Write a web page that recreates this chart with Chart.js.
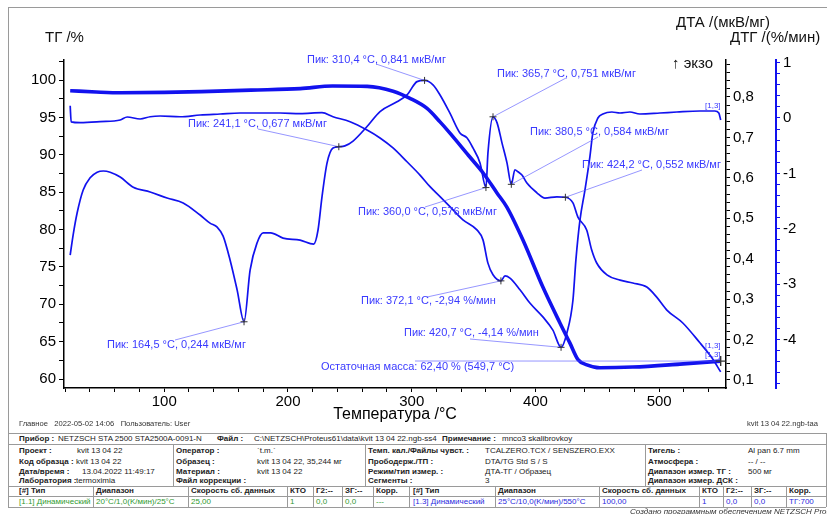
<!DOCTYPE html>
<html>
<head>
<meta charset="utf-8">
<script src="https://cdn.jsdelivr.net/npm/chart.js@4.4.1/dist/chart.umd.min.js"></script>
<style>
  html, body { margin: 0; padding: 0; background: #fff; }
  body { width: 827px; height: 514px; position: relative; overflow: hidden; font-family: "Liberation Sans", Arial, sans-serif; }
  #chart { position: absolute; left: 0; top: 0; }
  .txt { position: absolute; white-space: nowrap; line-height: 10px; font-size: 8px; color: #222; transform: translateY(-50%); }
  .small { font-size: 7.6px; }
  .big { font-size: 15px; line-height: 18px; color: #111; }
  .hl { position: absolute; height: 0; border-top: 1px solid #9a9a9a; }
  .vl { position: absolute; width: 0; border-left: 1px solid #9a9a9a; }
</style>
</head>
<body>
<canvas id="chart" width="827" height="430"></canvas>
<div id="page"></div>
<script>
// ТГ (масса, %)
const tgT = [24, 45, 65, 100, 130, 170, 210, 236, 264, 285, 298.6, 312.4, 322.9, 330.9, 347, 357.6, 368.9, 376.9, 389.9, 406, 419.8, 427.9, 434.4, 441.6, 452, 478.7, 516.7, 549.7];
const tgV = [98.57, 98.4, 98.3, 98.35, 98.45, 98.65, 98.85, 99.2, 99.15, 98.5, 97.55, 96.2, 94.4, 92.9, 89.7, 87.6, 84.9, 83.0, 78.6, 72.3, 67.5, 64.8, 62.6, 61.9, 61.5, 61.6, 62.0, 62.4];

// ДТА (мкВ/мг)
const dtaT = [24.0, 26.4, 29.6, 34.5, 40.1, 45.8, 50.8, 56.3, 64.4, 75, 88.6, 102.3, 115.3, 129, 137, 142.8, 147.6, 153.2, 158.9, 164.5,
  169.4, 175, 180, 186, 196, 209.8, 220.8, 224.3, 227.5, 231.6, 236.4, 241.1, 246, 252.6, 263.9, 274.4, 288.1, 296.2, 304.3, 310.4,
  317.2, 322.9, 330.9, 339, 344.6, 349.5, 355.2, 360.0, 361.6, 365.7, 369, 373, 377, 380.5, 383.4, 385.9, 389.1, 393.1, 401.2, 407.7,
  417.3, 424.2, 430.3, 434.3, 441.4, 445.4, 449.4, 457.8, 468.4, 478.7, 490, 498, 506.2, 519.1, 532.9, 542.6, 549.7];
const dtaV = [0.409, 0.459, 0.513, 0.57, 0.60, 0.614, 0.617, 0.614, 0.602, 0.577, 0.565, 0.55, 0.538, 0.508, 0.488, 0.478, 0.456, 0.397, 0.323, 0.244,
  0.372, 0.439, 0.464, 0.464, 0.451, 0.446, 0.436, 0.471, 0.553, 0.637, 0.674, 0.677, 0.679, 0.691, 0.727, 0.764, 0.788, 0.805, 0.838, 0.841,
  0.83, 0.805, 0.76, 0.711, 0.699, 0.674, 0.637, 0.576, 0.661, 0.751, 0.736, 0.686, 0.637, 0.584, 0.62, 0.615, 0.607, 0.587, 0.563, 0.55,
  0.553, 0.552, 0.538, 0.503, 0.471, 0.422, 0.39, 0.36, 0.347, 0.34, 0.33, 0.305, 0.273, 0.241, 0.192, 0.155, 0.12];

// ДТГ (%/мин)
const dtgT = [24.0, 24.8, 32.1, 48.2, 64.4, 70.1, 80.5, 88.6, 96.7, 112.8, 129, 145.2, 161.3, 177.5, 193.6, 209.8, 227.5, 236.4, 250.2, 263.9,
  274.4, 284.9, 296.2, 306.7, 314.8, 322.9, 330.9, 341.4, 352.7, 357.6, 361.6, 365.7, 372.1, 375.4, 379.4, 387.5, 395.5, 406, 414.1, 420.7,
  425.4, 430.3, 432.7, 436, 440, 444, 446.4, 450.5, 454.5, 461.8, 468.3, 476.3, 484.4, 500.6, 514.3, 532.9, 545, 548.2, 549.7];
const dtgV = [0.22, -0.07, -0.085, -0.067, -0.036, 0.018, -0.018, 0.023, 0.036, 0.023, 0.054, 0.072, 0.09, 0.09, 0.09, 0.08, 0.096, 0.023, -0.067, -0.217,
  -0.36, -0.54, -0.79, -1.03, -1.24, -1.42, -1.60, -1.84, -2.02, -2.20, -2.62, -2.83, -2.94, -2.85, -2.89, -3.10, -3.34, -3.59, -3.83, -4.14,
  -3.88, -3.29, -2.56, -1.84, -1.30, -0.70, -0.27, 0.0, 0.072, 0.108, 0.09, 0.108, 0.072, 0.09, 0.108, 0.126, 0.126, 0.09, -0.036];

// пики
const peakT = [164.5, 241.1, 310.4, 360.0, 365.7, 380.5, 424.2, 372.1, 420.7, 549.7];
const peakV = [0.244, 0.677, 0.841, 0.576, 0.751, 0.584, 0.552, -2.94, -4.14, 62.40];
const peakAxis = ['yDTA', 'yDTA', 'yDTA', 'yDTA', 'yDTA', 'yDTA', 'yDTA', 'yDTG', 'yDTG', 'yTG'];
const peakText = [
  'Пик: 164,5 °C, 0,244 мкВ/мг', 'Пик: 241,1 °C, 0,677 мкВ/мг', 'Пик: 310,4 °C, 0,841 мкВ/мг',
  'Пик: 360,0 °C, 0,576 мкВ/мг', 'Пик: 365,7 °C, 0,751 мкВ/мг', 'Пик: 380,5 °C, 0,584 мкВ/мг',
  'Пик: 424,2 °C, 0,552 мкВ/мг', 'Пик: 372,1 °C, -2,94 %/мин', 'Пик: 420,7 °C, -4,14 %/мин',
  'Остаточная масса: 62,40 % (549,7 °C)'
];
// положение подписи: x текста, y текста, начало выноски x, y
const noteLayout = [
  [107, 345, 175, 340], [188, 124, 258, 129], [307, 60, 376, 64], [358, 212, 425, 207],
  [497, 74, 566, 78], [530, 132, 598, 137], [582, 165, 642, 170], [361, 301, 427, 297],
  [404, 333, 470, 339], [321, 367, 415, 361]
];

const BLUE = '#1212ee';
const FONT = '"Liberation Sans", Arial, sans-serif';
Chart.defaults.font.family = FONT;
Chart.defaults.color = '#000';

const pts = (xs, ys) => xs.map((x, i) => ({ x: x, y: ys[i] }));

const notesPlugin = {
  id: 'peakNotes',
  afterDatasetsDraw(chart) {
    const { ctx, scales } = chart;
    const last = peakText.length - 1;
    ctx.save();
    ctx.font = '11px ' + FONT;
    ctx.textBaseline = 'middle';
    peakText.forEach((text, i) => {
      const px = scales.x.getPixelForValue(peakT[i]);
      const py = scales[peakAxis[i]].getPixelForValue(peakV[i]);
      const [tx, ty, lx, ly] = noteLayout[i];
      ctx.strokeStyle = 'rgba(90,90,255,0.8)';
      ctx.lineWidth = 0.8;
      ctx.beginPath(); ctx.moveTo(lx, ly); ctx.lineTo(px, py); ctx.stroke();
      const s = i === last ? 5 : 3.5;
      ctx.strokeStyle = '#333';
      ctx.lineWidth = i === last ? 1.4 : 1;
      ctx.beginPath();
      ctx.moveTo(px - s, py); ctx.lineTo(px + s, py);
      ctx.moveTo(px, py - s); ctx.lineTo(px, py + s);
      ctx.stroke();
      ctx.fillStyle = '#3a3aff';
      ctx.fillText(text, tx, ty);
    });
    // метки сегментов
    ctx.font = '8px ' + FONT;
    ctx.fillStyle = '#3a3aff';
    ctx.fillText('[1,3]', 705, 106);
    ctx.fillText('[1,3]', 705, 346);
    ctx.fillText('[1,3]', 705, 355);
    ctx.restore();
  }
};

const tickFont = { size: 15 };

new Chart(document.getElementById('chart').getContext('2d'), {
  type: 'line',
  data: {
    datasets: [
      { label: 'ТГ', data: pts(tgT, tgV), yAxisID: 'yTG', borderColor: BLUE, borderWidth: 3.6 },
      { label: 'ДТА', data: pts(dtaT, dtaV), yAxisID: 'yDTA', borderColor: BLUE, borderWidth: 1.7 },
      { label: 'ДТГ', data: pts(dtgT, dtgV), yAxisID: 'yDTG', borderColor: BLUE, borderWidth: 1.7 }
    ]
  },
  options: {
    responsive: false,
    animation: false,
    elements: { point: { radius: 0 }, line: { cubicInterpolationMode: 'monotone', fill: false } },
    layout: { padding: { left: 0, right: 1, top: 60, bottom: 0 } },
    plugins: { legend: { display: false }, tooltip: { enabled: false } },
    scales: {
      x: {
        type: 'linear', min: 19, max: 554,
        border: { color: '#000', width: 1.5 },
        grid: { drawOnChartArea: false, color: '#000', tickLength: 4 },
        ticks: {
          stepSize: 20, autoSkip: false, includeBounds: false, maxRotation: 0, padding: 1, font: tickFont,
          callback: v => (Math.round(v) % 100 === 0 ? String(Math.round(v)) : '')
        },
        title: { display: true, text: 'Температура /°C', font: { size: 16 }, padding: { top: 0, bottom: 6 } },
        afterFit: s => { s.height = 42; }
      },
      yTG: {
        position: 'left', min: 58.8, max: 102.68,
        border: { color: '#000', width: 1.5 },
        grid: { drawOnChartArea: false, color: '#000', tickLength: 5 },
        ticks: {
          stepSize: 2.5, autoSkip: false, includeBounds: false, padding: 3, font: tickFont,
          callback: v => (Math.abs(v / 5 - Math.round(v / 5)) < 1e-6 ? String(Math.round(v)) : '')
        },
        afterFit: s => { s.width = 64; }
      },
      yDTA: {
        position: 'right', weight: 0, min: 0.0802, max: 0.8915,
        border: { color: '#000', width: 1.5 },
        grid: { drawOnChartArea: false, color: '#000', tickLength: 4 },
        ticks: {
          stepSize: 0.02, autoSkip: false, includeBounds: false, padding: 3, font: tickFont,
          callback: v => {
            const k = v * 10;
            return Math.abs(k - Math.round(k)) < 1e-6 ? (Math.round(k) / 10).toFixed(1).replace('.', ',') : '';
          }
        },
        afterFit: s => { s.width = 50; }
      },
      yDTG: {
        position: 'right', weight: 1, min: -4.874, max: 1.047,
        border: { color: BLUE, width: 2 },
        grid: { drawOnChartArea: false, color: BLUE, tickLength: 4 },
        ticks: {
          stepSize: 0.2, autoSkip: false, includeBounds: false, padding: 3, font: tickFont,
          callback: v => (Math.abs(v - Math.round(v)) < 1e-6 ? String(Math.round(v) || 0) : '')
        },
        afterFit: s => { s.width = 50; }
      }
    }
  },
  plugins: [notesPlugin]
});

// подписи и таблица под графиком
const page = document.getElementById('page');
function put(x, y, html, cls, color) {
  const d = document.createElement('div');
  d.className = 'txt ' + (cls || '');
  d.style.left = x + 'px';
  d.style.top = y + 'px';
  if (color) d.style.color = color;
  d.innerHTML = html;
  page.appendChild(d);
}
function hline(x1, x2, y) {
  const d = document.createElement('div');
  d.className = 'hl';
  d.style.left = x1 + 'px'; d.style.top = y + 'px'; d.style.width = (x2 - x1) + 'px';
  page.appendChild(d);
}
function vline(x, y1, y2) {
  const d = document.createElement('div');
  d.className = 'vl';
  d.style.left = x + 'px'; d.style.top = y1 + 'px'; d.style.height = (y2 - y1) + 'px';
  page.appendChild(d);
}

put(45, 37, 'ТГ /%', 'big');
put(676, 22, 'ДТА /(мкВ/мг)', 'big');
put(730, 37, 'ДТГ /(%/мин)', 'big');
put(672, 63, '↑ экзо', 'big');

hline(8, 827, 7);
vline(8, 7, 507);

put(19, 424, 'Главное &nbsp;&nbsp;2022-05-02 14:06 &nbsp;&nbsp;Пользователь: User', 'small', '#333');
put(747, 424, 'kvit 13 04 22.ngb-taa', 'small', '#333');

// строка прибора
put(19, 439, '<b>Прибор :</b>');
put(58, 439, 'NETZSCH STA 2500 STA2500A-0091-N');
put(217, 439, '<b>Файл :</b>');
put(254, 439, 'C:\\NETZSCH\\Proteus61\\data\\kvit 13 04 22.ngb-ss4');
put(442, 439, '<b>Примечание :</b>');
put(502, 439, 'mnco3 skalibrovkoy');

const infoY = [451, 462, 472, 481];
const infoLabels = [
  ['Проект :', 'Оператор :', 'Темп. кал./Файлы чувст. :', 'Тигель :'],
  ['Код образца :', 'Образец :', 'Прободерж./ТП :', 'Атмосфера :'],
  ['Дата/время :', 'Материал :', 'Режим/тип измер. :', 'Диапазон измер. ТГ :'],
  ['Лаборатория :', 'Файл коррекции :', 'Сегменты :', 'Диапазон измер. ДСК :']
];
const infoValues = [
  ['kvit 13 04 22', '`t.m.`', 'TCALZERO.TCX / SENSZERO.EXX', 'Al pan 6.7 mm'],
  ['kvit 13 04 22', 'kvit 13 04 22, 35,244 мг', 'DTA/TG Std S / S', '-- / --'],
  ['13.04.2022 11:49:17', 'kvit 13 04 22', 'ДТА-ТГ / Образец', '500 мг'],
  ['termoximia', '', '3', '']
];
const labelX = [19, 176, 368, 648];
const valueX = [[77, 257, 485, 748], [76, 257, 485, 748], [82, 257, 485, 748], [76, 257, 485, 748]];
infoLabels.forEach((row, r) => {
  row.forEach((lab, c) => {
    put(labelX[c], infoY[r], '<b>' + lab + '</b>');
    if (infoValues[r][c]) put(valueX[r][c], infoY[r], infoValues[r][c]);
  });
});

const segHead = ['[#] Тип', 'Диапазон', 'Скорость сб. данных', 'КТО', 'Г2:--', 'ЗГ:--', 'Корр.'];
const seg1 = ['[1.1] Динамический', '20°C/1,0(K/мин)/25°C', '25,00', '1', '0,0', '0,0', '---'];
const seg3 = ['[1.3] Динамический', '25°C/10,0(K/мин)/550°C', '100,00', '1', '0,0', '0,0', 'ТГ:700'];
const segX1 = [19, 96, 191, 290, 316, 345, 376];
const segX3 = [413, 498, 602, 702, 726, 754, 789];
segHead.forEach((h, i) => {
  put(segX1[i], 491, '<b>' + h + '</b>');
  put(segX3[i], 491, '<b>' + h + '</b>');
  put(segX1[i], 502, seg1[i], '', '#2f9a2f');
  put(segX3[i], 502, seg3[i], '', '#2a2ae0');
  if (i > 0) { vline(segX1[i] - 3, 486, 507); vline(segX3[i] - 3, 486, 507); }
});
vline(409, 486, 507);

[433, 444, 486, 496, 507].forEach(y => hline(8, 826, y));
vline(826, 433, 507);
[173, 365, 645].forEach(x => vline(x, 444, 486));

put(630, 512, '<i>Создано программным обеспечением NETZSCH Proteus</i>', '', '#333');
</script>
</body>
</html>
